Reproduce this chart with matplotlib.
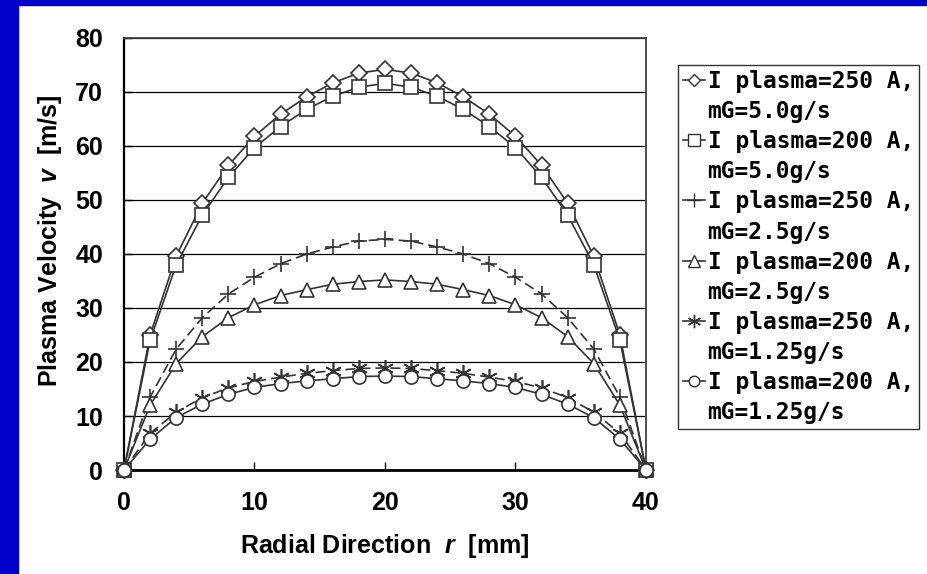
import matplotlib
matplotlib.use("Agg")
import matplotlib.pyplot as plt
from matplotlib.lines import Line2D
from matplotlib.patches import Rectangle

# Radial positions [mm]
r = [0, 2, 4, 6, 8, 10, 12, 14, 16, 18, 20,
     22, 24, 26, 28, 30, 32, 34, 36, 38, 40]

# Plasma velocity [m/s]
v_250_50 = [0, 25.0, 39.6, 49.4, 56.4, 61.8, 65.9, 69.1, 71.7, 73.5, 74.2,
            73.5, 71.7, 69.1, 65.9, 61.8, 56.4, 49.4, 39.6, 25.0, 0]
v_200_50 = [0, 24.0, 38.0, 47.2, 54.2, 59.7, 63.6, 66.8, 69.2, 70.9, 71.6,
            70.9, 69.2, 66.8, 63.6, 59.7, 54.2, 47.2, 38.0, 24.0, 0]
v_250_25 = [0, 13.5, 22.4, 28.2, 32.6, 35.7, 38.2, 40.0, 41.3, 42.4, 42.7,
            42.4, 41.3, 40.0, 38.2, 35.7, 32.6, 28.2, 22.4, 13.5, 0]
v_200_25 = [0, 12.0, 19.7, 24.7, 28.2, 30.6, 32.3, 33.4, 34.4, 34.9, 35.2,
            34.9, 34.4, 33.4, 32.3, 30.6, 28.2, 24.7, 19.7, 12.0, 0]
v_250_125 = [0, 6.8, 10.7, 13.4, 15.2, 16.4, 17.2, 17.9, 18.4, 18.8, 18.9,
             18.8, 18.4, 17.9, 17.2, 16.4, 15.2, 13.4, 10.7, 6.8, 0]
v_200_125 = [0, 5.7, 9.7, 12.2, 14.0, 15.3, 16.0, 16.5, 16.9, 17.3, 17.4,
             17.3, 16.9, 16.5, 16.0, 15.3, 14.0, 12.2, 9.7, 5.7, 0]

series = [v_250_50, v_200_50, v_250_25, v_200_25, v_250_125, v_200_125]
label_top = ["I plasma=250 A,", "I plasma=200 A,", "I plasma=250 A,",
             "I plasma=200 A,", "I plasma=250 A,", "I plasma=200 A,"]
label_bottom = ["mG=5.0g/s", "mG=5.0g/s", "mG=2.5g/s",
                "mG=2.5g/s", "mG=1.25g/s", "mG=1.25g/s"]

markers = ["D", "s", "+", "^", (6, 2, 0), "o"]
sizes = [8, 10, 12, 10, 12, 9.5]
dashed = [False, False, True, False, True, False]

line_color = "#333333"
label_font = ["Liberation Sans"]

plt.rcParams["mathtext.fontset"] = "custom"
plt.rcParams["mathtext.it"] = "Liberation Sans:italic:bold"

fig = plt.figure(figsize=(9.28, 5.74), dpi=100)
ax = fig.add_axes([124 / 928, 104 / 574, 522 / 928, 432 / 574])

# blue slide frame (top and left edges)
fig.patches.append(Rectangle((0, 0), 18 / 928, 1, transform=fig.transFigure,
                             color="#0000CC", zorder=0))
fig.patches.append(Rectangle((0, 1 - 5 / 574), 1, 5 / 574,
                             transform=fig.transFigure, color="#0000CC", zorder=0))

for i, vals in enumerate(series):
    ax.plot(
        r,
        vals,
        color=line_color,
        linewidth=1.2,
        linestyle=(0, (6, 3)) if dashed[i] else "-",
        marker=markers[i],
        markersize=sizes[i],
        markerfacecolor="white",
        markeredgecolor=line_color,
        markeredgewidth=1.2,
        clip_on=False,
        zorder=3,
    )

ax.set_xlim(0, 40)
ax.set_ylim(0, 80)
ax.set_xticks([0, 10, 20, 30, 40])
ax.set_yticks(range(0, 90, 10))

ax.grid(axis="y", color="black", linewidth=0.9)
ax.set_axisbelow(True)

ax.tick_params(direction="in", length=6, width=1, color="black", pad=15)
for lab in ax.get_xticklabels() + ax.get_yticklabels():
    lab.set_family(label_font)
    lab.set_fontweight("bold")
    lab.set_fontsize(18)

ax.spines["left"].set_linewidth(1.6)
ax.spines["bottom"].set_linewidth(2.0)
ax.spines["top"].set_color("#404040")
ax.spines["right"].set_color("#404040")
ax.spines["top"].set_linewidth(1.3)
ax.spines["right"].set_linewidth(1.3)

ax.set_xlabel(r"Radial Direction  $\mathit{r}$  [mm]", family=label_font,
              fontweight="bold", fontsize=18)
ax.set_ylabel(r"Plasma Velocity  $\mathit{v}$  [m/s]", family=label_font,
              fontweight="bold", fontsize=18)
ax.xaxis.set_label_coords(0.5, -0.143)
ax.yaxis.set_label_coords(-0.115, 0.53)

# legend: handle on the first line of each two-line label
handles = []
texts = []
for i in range(len(series)):
    handles.append(Line2D([0], [0], color=line_color, linewidth=1.2,
                          marker=markers[i], markersize=sizes[i] * 0.8,
                          markerfacecolor="white", markeredgecolor=line_color,
                          markeredgewidth=1.0))
    texts.append(label_top[i])
    handles.append(Line2D([0], [0], color="none"))
    texts.append(label_bottom[i])

leg = fig.legend(
    handles,
    texts,
    loc="upper left",
    bbox_to_anchor=(678 / 928, 1 - 65 / 574),
    prop={"family": "DejaVu Sans Mono", "weight": "bold", "size": 16.5},
    frameon=True,
    fancybox=False,
    shadow=False,
    handlelength=0.95,
    handletextpad=0.12,
    labelspacing=0.31,
    borderpad=0.22,
    borderaxespad=0,
)
leg.get_frame().set_edgecolor("black")
leg.get_frame().set_linewidth(1.0)

fig.savefig("out.png", dpi=100)
